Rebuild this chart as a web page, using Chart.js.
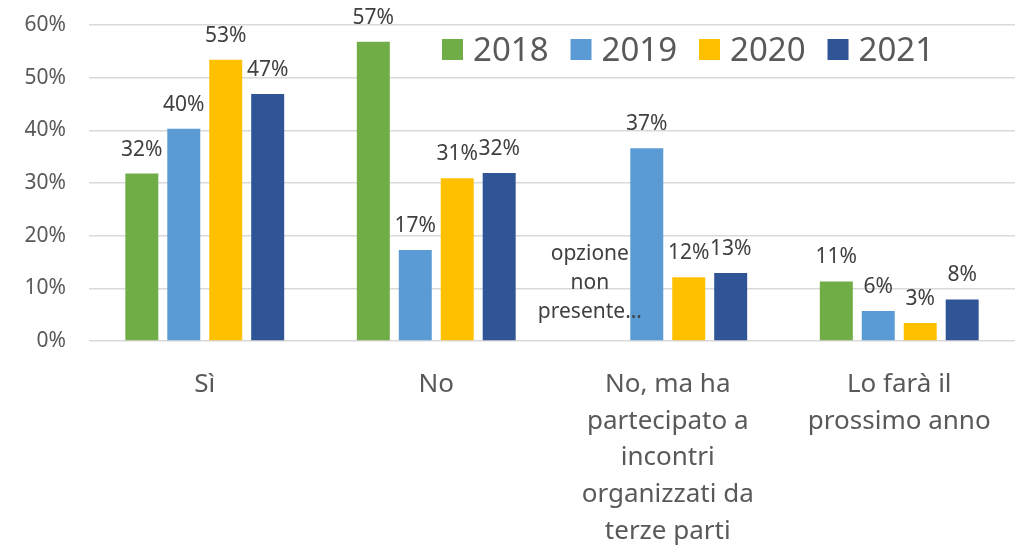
<!DOCTYPE html>
<html>
<head>
<meta charset="utf-8">
<script src="https://cdn.jsdelivr.net/npm/chart.js@4"></script>
<style>
  html, body { margin: 0; padding: 0; background: #fff; }
</style>
</head>
<body>
<canvas id="chart" width="1018" height="553"></canvas>
<script>
// categorie (una riga per elemento, come nel grafico originale)
const categories = [
    ['Sì'],
    ['No'],
    ['No, ma ha', 'partecipato a', 'incontri', 'organizzati da', 'terze parti'],
    ['Lo farà il', 'prossimo anno']
];
const years = ['2018', '2019', '2020', '2021'];

// valori in percentuale
const values2018 = [31.8, 56.8, null, 11.3];
const values2019 = [40.3, 17.3, 36.6, 5.7];
const values2020 = [53.4, 30.9, 12.1, 3.4];
const values2021 = [46.9, 31.9, 12.9, 7.9];

const yTicks = [0, 10, 20, 30, 40, 50, 60];
const missingNote = ['opzione', 'non', 'presente…'];

const colors = ['#70AD47', '#5B9BD5', '#FFC000', '#2F5597'];
const FONT = '"Noto Sans", sans-serif';

// etichette dei valori sopra le barre
const valueLabels = {
    id: 'valueLabels',
    afterDatasetsDraw(chart) {
        const ctx = chart.ctx;
        ctx.save();
        ctx.font = '21px ' + FONT;
        ctx.fillStyle = '#404040';
        ctx.textAlign = 'center';
        ctx.textBaseline = 'alphabetic';
        chart.data.datasets.forEach((ds, di) => {
            const meta = chart.getDatasetMeta(di);
            meta.data.forEach((bar, i) => {
                const v = ds.data[i];
                if (v === null) {
                    const bottom = chart.chartArea.bottom;
                    missingNote.forEach((line, k) => {
                        ctx.fillText(line, bar.x - 15, bottom - 23 - (missingNote.length - 1 - k) * 29);
                    });
                } else {
                    ctx.fillText(Math.round(v) + '%', bar.x, bar.y - 18);
                }
            });
        });
        ctx.restore();
    }
};

// etichette dell'asse x su più righe
const xLabels = {
    id: 'xLabels',
    afterDraw(chart) {
        const ctx = chart.ctx;
        const xScale = chart.scales.x;
        ctx.save();
        ctx.font = '26px ' + FONT;
        ctx.fillStyle = '#595959';
        ctx.textAlign = 'center';
        ctx.textBaseline = 'alphabetic';
        chart.data.labels.forEach((lines, i) => {
            const x = xScale.getPixelForValue(i);
            lines.forEach((line, k) => {
                ctx.fillText(line, x, chart.chartArea.bottom + 51 + k * 36.7);
            });
        });
        ctx.restore();
    }
};

// legenda dentro l'area del grafico, in alto a destra
const insideLegend = {
    id: 'insideLegend',
    afterDraw(chart) {
        const ctx = chart.ctx;
        ctx.save();
        ctx.font = '33px ' + FONT;
        ctx.textBaseline = 'alphabetic';
        ctx.textAlign = 'left';
        let x = 442;
        chart.data.datasets.forEach(ds => {
            ctx.fillStyle = ds.backgroundColor;
            ctx.fillRect(x, 39, 21, 21);
            ctx.fillStyle = '#595959';
            ctx.fillText(ds.label, x + 31, 61);
            x += 21 + 10 + ctx.measureText(ds.label).width + 22;
        });
        ctx.restore();
    }
};

const seriesValues = [values2018, values2019, values2020, values2021];

new Chart(document.getElementById('chart').getContext('2d'), {
    type: 'bar',
    data: {
        labels: categories,
        datasets: years.map((y, i) => ({
            label: y,
            data: seriesValues[i],
            backgroundColor: colors[i],
            borderWidth: 0,
            categoryPercentage: 0.725,
            barPercentage: 0.786
        }))
    },
    options: {
        responsive: false,
        animation: false,
        layout: { padding: { left: 0, right: 3, top: 25, bottom: 204 } },
        plugins: {
            legend: { display: false },
            tooltip: { enabled: false }
        },
        scales: {
            x: {
                ticks: { display: false },
                grid: { display: false },
                border: { display: false }
            },
            y: {
                min: yTicks[0],
                max: yTicks[yTicks.length - 1],
                afterBuildTicks(scale) {
                    scale.ticks = yTicks.map(v => ({ value: v }));
                },
                afterFit(scale) {
                    scale.width = 89;
                    scale.paddingTop = 0;
                    scale.paddingBottom = 0;
                },
                ticks: {
                    padding: 23,
                    color: '#595959',
                    font: { family: FONT, size: 21 },
                    callback: v => v + '%'
                },
                grid: { color: '#D9D9D9', lineWidth: 1.5, drawTicks: false },
                border: { display: false }
            }
        }
    },
    plugins: [valueLabels, xLabels, insideLegend]
});
</script>
</body>
</html>
